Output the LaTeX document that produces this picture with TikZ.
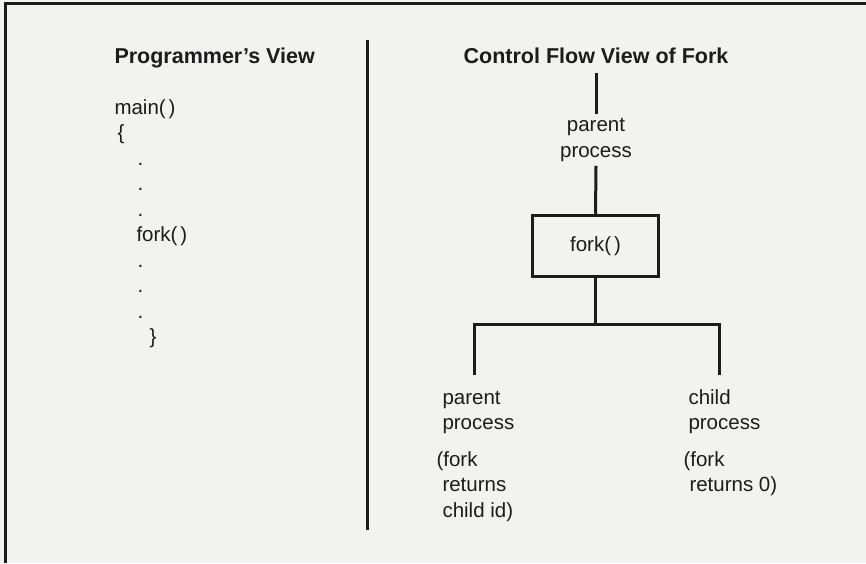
\documentclass[tikz,border=0pt]{standalone}
\usepackage{fontspec}
\setmainfont{Liberation Sans}
\definecolor{paper}{RGB}{242,242,241}
\definecolor{ink}{RGB}{28,28,28}

\begin{document}
\begin{tikzpicture}[x=1pt, y=-1pt, color=ink, line width=3pt,
		txt/.style={font=\fontsize{20.5}{25.5}\selectfont, align=left, inner sep=0pt, anchor=base west},
		head/.style={font=\fontsize{21.5}{26}\selectfont\bfseries, inner sep=0pt, anchor=base west}]
		\fill[paper] (0,0) rectangle (866,563);
		\useasboundingbox (0,0) rectangle (866,563);
		% frame and divider
		\draw (866,3) -- (5,3) -- (5,563);
		\draw (367,40) -- (367,530);
		% left half (multi-line nodes sit on their last baseline)
		\node[head] (ptitle) at (113,63) {Programmer's View};
		\node[txt] (code) at (113,343.5) {main(\kern3pt)\\
			\hspace*{3pt}\{\\
			\hspace*{23pt}.\\
			\hspace*{23pt}.\\
			\hspace*{23pt}.\\
			\hspace*{22pt}fork(\kern3pt)\\
			\hspace*{23pt}.\\
			\hspace*{23pt}.\\
			\hspace*{23pt}.\\
			\hspace*{35pt}\}};
		% right half
		\node[head, anchor=base] (ctitle) at (596,63) {Control Flow View of Fork};
		\coordinate (top) at (596,73);
		\node[txt, align=center, anchor=base, inner sep=3pt] (parent) at (596,157) {parent\\process};
		\node[draw, line width=3.5pt, minimum width=126pt, minimum height=61pt,
			font=\fontsize{20.5}{25.5}\selectfont] (fork) at (595.5,246) {fork(\kern3pt)};
		\draw (top) -- (parent.north);
		\draw (parent.south) -- (fork.north);
		\coordinate (split) at (595.5,324);
		\coordinate (lend) at (474,375);
		\coordinate (rend) at (719,375);
		\draw (fork) -- (split);
		\draw (lend) |- (split) -| (rend);
		\node[txt] (ppar) at (441,429.5) {parent\\process};
		\node[txt] (pret) at (435,517) {(fork\\\hspace*{6pt}returns\\\hspace*{6pt}child id)};
		\node[txt] (cpro) at (687,429.5) {child\\process};
		\node[txt] (cret) at (682,491.5) {(fork\\\hspace*{6pt}returns 0)};
	\end{tikzpicture}
\end{document}
